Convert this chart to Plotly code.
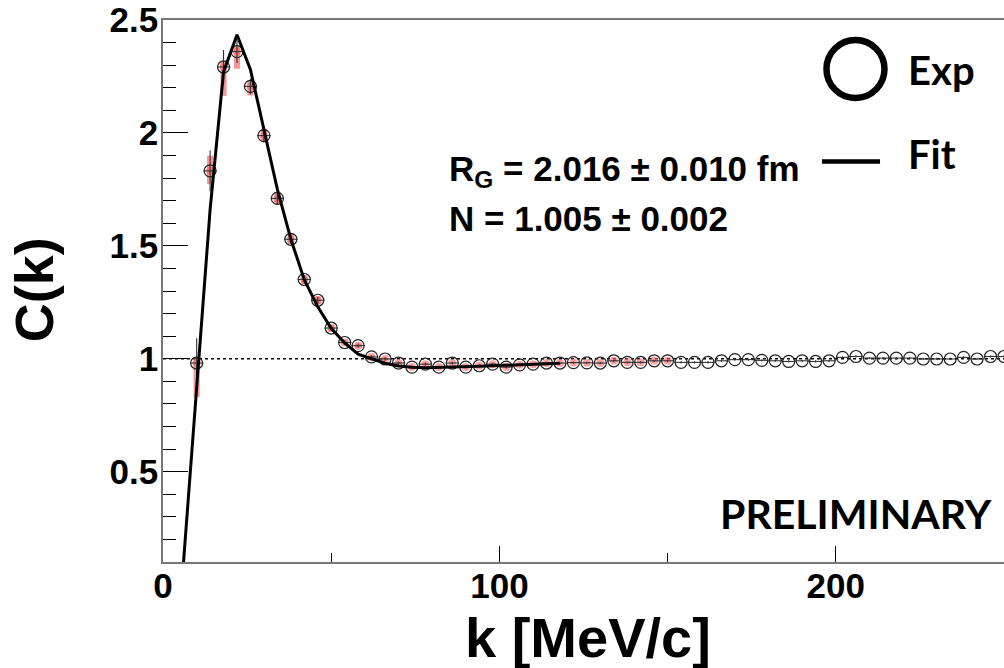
import plotly.graph_objects as go

# ---------------- data ----------------
k_data = [10, 14, 18, 22, 26, 30, 34, 38, 42, 46, 50, 54, 58, 62, 66, 70, 74, 78, 82, 86,
          90, 94, 98, 102, 106, 110, 114, 118, 122, 126, 130, 134, 138, 142, 146, 150,
          154, 158, 162, 166, 170, 174, 178, 182, 186, 190, 194, 198, 202, 206, 210,
          214, 218, 222, 226, 230, 234, 238, 242, 246, 250]
c_data = [0.981, 1.832, 2.292, 2.360, 2.206, 1.988, 1.710, 1.529, 1.351, 1.259, 1.136,
          1.072, 1.058, 1.008, 0.999, 0.981, 0.963, 0.976, 0.963, 0.981, 0.963, 0.969,
          0.976, 0.963, 0.973, 0.976, 0.981, 0.981, 0.983, 0.982, 0.981, 0.991, 0.984,
          0.984, 0.991, 0.991, 0.984, 0.984, 0.984, 0.991, 0.996, 0.996, 0.993, 0.991,
          0.988, 0.991, 0.988, 0.991, 1.006, 1.010, 1.003, 1.003, 1.003, 1.003, 0.999,
          0.999, 0.999, 1.006, 0.999, 1.010, 1.010]
stat_err = [0.11, 0.09, 0.075, 0.05, 0.035, 0.03, 0.025, 0.02, 0.018, 0.015, 0.012, 0.010,
            0.009, 0.008, 0.008, 0.007, 0.007, 0.007, 0.006, 0.006, 0.006, 0.006, 0.006,
            0.006, 0.005, 0.005, 0.005, 0.005, 0.005, 0.005, 0.005, 0.005, 0.005, 0.005,
            0.005, 0.005, 0.005, 0.005, 0.005, 0.005, 0.005, 0.005, 0.005, 0.005, 0.005,
            0.005, 0.005, 0.005, 0.005, 0.005, 0.005, 0.005, 0.005, 0.005, 0.005, 0.005,
            0.005, 0.005, 0.005, 0.005, 0.005]
k_half_bin = 2.0

# systematic boxes (red)
k_sys = [10, 14, 18, 22, 26, 30, 34, 38, 42, 46, 50, 54, 58, 62, 66, 70, 74, 78, 82, 86,
         90, 94, 98, 102, 106, 110, 114, 118, 122, 126, 130, 134, 138, 142, 146, 150]
c_sys = c_data[:len(k_sys)]
sys_up = [0.025, 0.067, 0.024, 0.022, 0.026, 0.030, 0.028, 0.027, 0.018, 0.017, 0.015,
          0.010, 0.008, 0.006, 0.006, 0.006, 0.006, 0.004, 0.004, 0.004, 0.004, 0.004,
          0.004, 0.003, 0.003, 0.003, 0.003, 0.003, 0.003, 0.003, 0.003, 0.003, 0.003,
          0.003, 0.003, 0.003]
sys_down = [0.151, 0.059, 0.128, 0.076, 0.040, 0.028, 0.026, 0.022, 0.022, 0.019, 0.016,
            0.010, 0.008, 0.006, 0.006, 0.006, 0.006, 0.004, 0.004, 0.004, 0.004, 0.004,
            0.004, 0.003, 0.003, 0.003, 0.003, 0.003, 0.003, 0.003, 0.003, 0.003, 0.003,
            0.003, 0.003, 0.003]

# fit curve
k_fit = [6, 10, 14, 18, 22, 26, 30, 34, 38, 42, 46, 50, 54, 58, 62, 66, 70, 74, 78, 82,
         86, 90, 94, 98, 102, 106, 110, 114, 118]
c_fit = [0.08, 0.87, 1.66, 2.27, 2.435, 2.28, 2.02, 1.75, 1.53, 1.35, 1.23, 1.135, 1.07,
         1.02, 1.00, 0.98, 0.968, 0.962, 0.960, 0.961, 0.963, 0.965, 0.967, 0.969, 0.971,
         0.974, 0.976, 0.978, 0.980]

ref_level = 1.0
x_ticks = [0, 100, 200]
y_ticks = [0.5, 1.0, 1.5, 2.0, 2.5]
y_tick_text = ["0.5", "1", "1.5", "2", "2.5"]

fit_text_1 = "R<sub>G</sub> = 2.016 ± 0.010 fm"
fit_text_2 = "N = 1.005 ± 0.002"

# ---------------- figure ----------------
fig = go.Figure()

sys_height = [u + d for u, d in zip(sys_up, sys_down)]
sys_base = [c - d for c, d in zip(c_sys, sys_down)]
fig.add_trace(go.Bar(x=k_sys, y=sys_height, base=sys_base, width=1.8,
                     marker=dict(color="rgba(240,80,80,0.6)", line=dict(width=0)),
                     showlegend=False, hoverinfo="skip"))
fig.add_trace(go.Scatter(x=k_sys, y=c_sys, mode="markers",
                         marker=dict(symbol="circle", size=8, color="rgba(248,100,100,0.6)"),
                         showlegend=False, hoverinfo="skip"))
fig.add_trace(go.Scatter(
    x=k_data, y=c_data, mode="markers",
    marker=dict(symbol="circle-open", size=12, color="#222", line=dict(width=1.2)),
    error_y=dict(type="data", array=stat_err, color="#333", thickness=1.1, width=0),
    error_x=dict(type="constant", value=k_half_bin, color="#333", thickness=1.1, width=0),
    showlegend=False))
fig.add_trace(go.Scatter(x=k_fit, y=c_fit, mode="lines",
                         line=dict(color="black", width=3), showlegend=False))

# legend symbol (open circle) on an overlay axis in paper-like units
fig.add_trace(go.Scatter(x=[0.8234], y=[0.9096], mode="markers", xaxis="x2", yaxis="y2",
                         marker=dict(symbol="circle-open", size=58, color="black",
                                     line=dict(width=6.5)),
                         cliponaxis=False, showlegend=False, hoverinfo="skip"))

bold = dict(family="Liberation Sans, Arial, sans-serif", color="black", weight="bold")
cal = dict(family="Lato, Liberation Sans, sans-serif", color="black", weight="bold")

fig.update_layout(
    width=1004, height=668,
    margin=dict(l=163, r=0, t=20, b=106),
    paper_bgcolor="white", plot_bgcolor="white",
    barmode="overlay",
    xaxis=dict(range=[0, 250], tickvals=x_ticks, ticks="inside", ticklen=16, tickwidth=1,
               tickcolor="black", showline=True, linecolor="#777", linewidth=1.5,
               mirror=True, showgrid=False, zeroline=False,
               tickfont=dict(size=35, **bold), ticklabelstandoff=-8,
               minor=dict(dtick=50, ticks="inside", ticklen=9, tickcolor="black", tickwidth=1)),
    yaxis=dict(range=[0.1, 2.5], tickvals=y_ticks, ticktext=y_tick_text, ticks="inside",
               ticklen=25, tickwidth=1, tickcolor="black", showline=True, linecolor="#777",
               linewidth=1.5, showgrid=False, zeroline=False,
               tickfont=dict(size=35, **bold), ticklabelstandoff=-4,
               minor=dict(dtick=0.1, tick0=0, ticks="inside", ticklen=13,
                          tickcolor="black", tickwidth=1)),
    xaxis2=dict(overlaying="x", range=[0, 1], visible=False, fixedrange=True),
    yaxis2=dict(overlaying="y", range=[0, 1], visible=False, fixedrange=True),
    annotations=[
        dict(text="k [MeV/c]", xref="paper", yref="paper", x=0.505, y=-0.14,
             xanchor="center", yanchor="middle", showarrow=False, font=dict(size=56, **bold)),
        dict(text="C(k)", xref="paper", yref="paper", x=-0.153, y=0.502, textangle=-90,
             xanchor="center", yanchor="middle", showarrow=False, font=dict(size=54, **bold)),
        dict(text=fit_text_1, xref="paper", yref="paper", x=0.338, y=0.722,
             xanchor="left", yanchor="middle", showarrow=False, font=dict(size=35, **bold)),
        dict(text=fit_text_2, xref="paper", yref="paper", x=0.338, y=0.633,
             xanchor="left", yanchor="middle", showarrow=False, font=dict(size=35, **bold)),
        dict(text="Exp", xref="paper", yref="paper", x=0.883, y=0.907,
             xanchor="left", yanchor="middle", showarrow=False, font=dict(size=40, **cal)),
        dict(text="Fit", xref="paper", yref="paper", x=0.883, y=0.752,
             xanchor="left", yanchor="middle", showarrow=False, font=dict(size=40, **cal)),
        dict(text="PRELIMINARY", xref="paper", yref="paper", x=0.988, y=0.09,
             xanchor="right", yanchor="middle", showarrow=False, font=dict(size=41, **cal)),
    ],
    shapes=[
        dict(type="line", xref="x domain", yref="y", x0=0, x1=1, y0=ref_level,
             y1=ref_level, layer="below", line=dict(color="black", width=1.5, dash="dot")),
        dict(type="line", xref="paper", yref="paper", x0=0.7836, x1=0.8526, y0=0.739,
             y1=0.739, line=dict(color="black", width=4.5)),
    ],
)

fig.write_html("out.html", config={"displayModeBar": False},
               post_script="document.body.style.margin='0px';")
